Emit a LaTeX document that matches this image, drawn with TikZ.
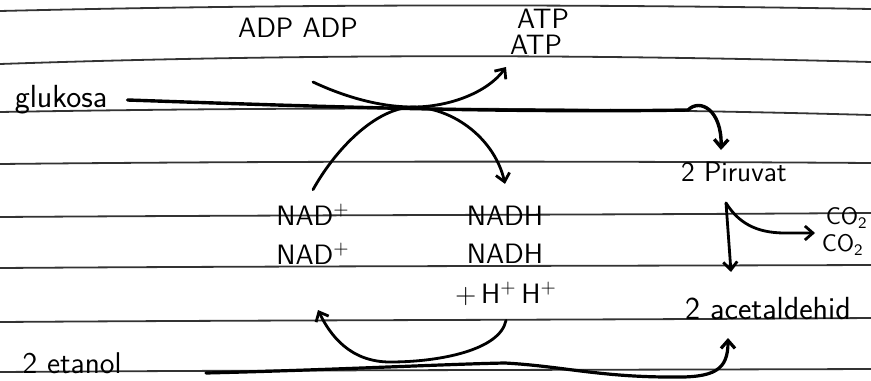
\documentclass[tikz,border=0pt]{standalone}
\usetikzlibrary{arrows.meta}

\begin{document}
\begin{tikzpicture}[x=0.5pt, y=-0.5pt,
      rule/.style={line width=0.9pt, color=black!80},
      ink/.style={line width=1.4pt, line cap=round},
      arr/.style={ink, -{Straight Barb[length=4pt,width=7pt]}},
      lbl/.style={font=\sffamily\fontsize{14}{16}\selectfont, inner sep=1pt}
  ]
    \useasboundingbox[fill=white] (0,0) rectangle (871,380);
    % ruled paper
    \foreach \yl/\ym/\yr in {11/4/9, 64/54/62, 112/107/115, 164/161/163,
                             217/215/213, 268/266/265, 322/320/318, 372/370/369}
      \draw[rule] (0,\yl) .. controls (290,\ym) and (580,\ym) .. (871,\yr);

    \node[lbl] (adp)     at (298,28)  {ADP ADP};
    \node[lbl] (atp1)    at (543,19)  {ATP};
    \node[lbl] (atp2)    at (536,45)  {ATP};
    \node[lbl, font=\sffamily\fontsize{16}{18}\selectfont] (glu) at (61,100) {glukosa};
    \node[lbl] (piruvat) at (734,172) {2 Piruvat};
    \node[lbl] (nad1)    at (313,215) {NAD\textsuperscript{+}};
    \node[lbl] (nad2)    at (313,254) {NAD\textsuperscript{+}};
    \node[lbl] (nadh1)   at (505,216) {NADH};
    \node[lbl] (nadh2)   at (505,254) {NADH};
    \node[lbl] (hplus)   at (506,294) {+\,H\textsuperscript{+}\,H\textsuperscript{+}};
    \node[lbl, font=\sffamily\fontsize{12}{14}\selectfont, anchor=east] (co2a) at (870,218) {CO\textsubscript{2}};
    \node[lbl, font=\sffamily\fontsize{12}{14}\selectfont, anchor=east] (co2b) at (866,245) {CO\textsubscript{2}};
    \node[lbl, font=\sffamily\fontsize{16}{18}\selectfont] (asetal) at (768,309) {2 acetaldehid};
    \node[lbl, font=\sffamily\fontsize{15}{17}\selectfont] (etanol) at (72,363) {2 etanol};

    \coordinate (cross)   at (413,107);
    \coordinate (adpin)   at (313,82);
    \coordinate (atpin)   at (506,67);
    \coordinate (pirin)   at (721,150);
    \coordinate (fork)    at (726,203);
    \coordinate (aldin)   at (731,272);
    \coordinate (co2in)   at (815,233);
    \coordinate (nadback) at (318,310);
    \coordinate (etstart) at (206,373);
    \coordinate (etin)    at (728,338);

    % glikolisis
    \draw[arr, line width=1.7pt] ([xshift=9pt]glu.east) .. controls (300,106) and (500,113) .. (688,110)
          .. controls (700,98) and (722,110) .. (pirin);
    \draw[arr] (adpin) .. controls (345,97) and (380,107) .. (cross)
          .. controls (450,107) and (488,92) .. (atpin);
    \draw[arr] ([yshift=6pt]nad1.north) .. controls (335,150) and (375,108) .. (cross)
          .. controls (455,108) and (495,140) .. ([yshift=10pt]nadh1.north);
    % fermentasi
    \draw[arr] (fork) -- (aldin);
    \draw[arr] (fork) .. controls (738,222) and (755,233) .. (785,233) -- (co2in);
    \draw[arr] ([yshift=-6pt]hplus.south) .. controls (500,350) and (440,362) .. (390,362)
          .. controls (350,362) and (330,335) .. (nadback);
    \draw[arr, line width=1.6pt] (etstart) .. controls (330,370) and (450,364) .. (505,363)
          .. controls (560,366) and (600,377) .. (670,377)
          .. controls (715,378) and (728,370) .. (etin);
\end{tikzpicture}
\end{document}
